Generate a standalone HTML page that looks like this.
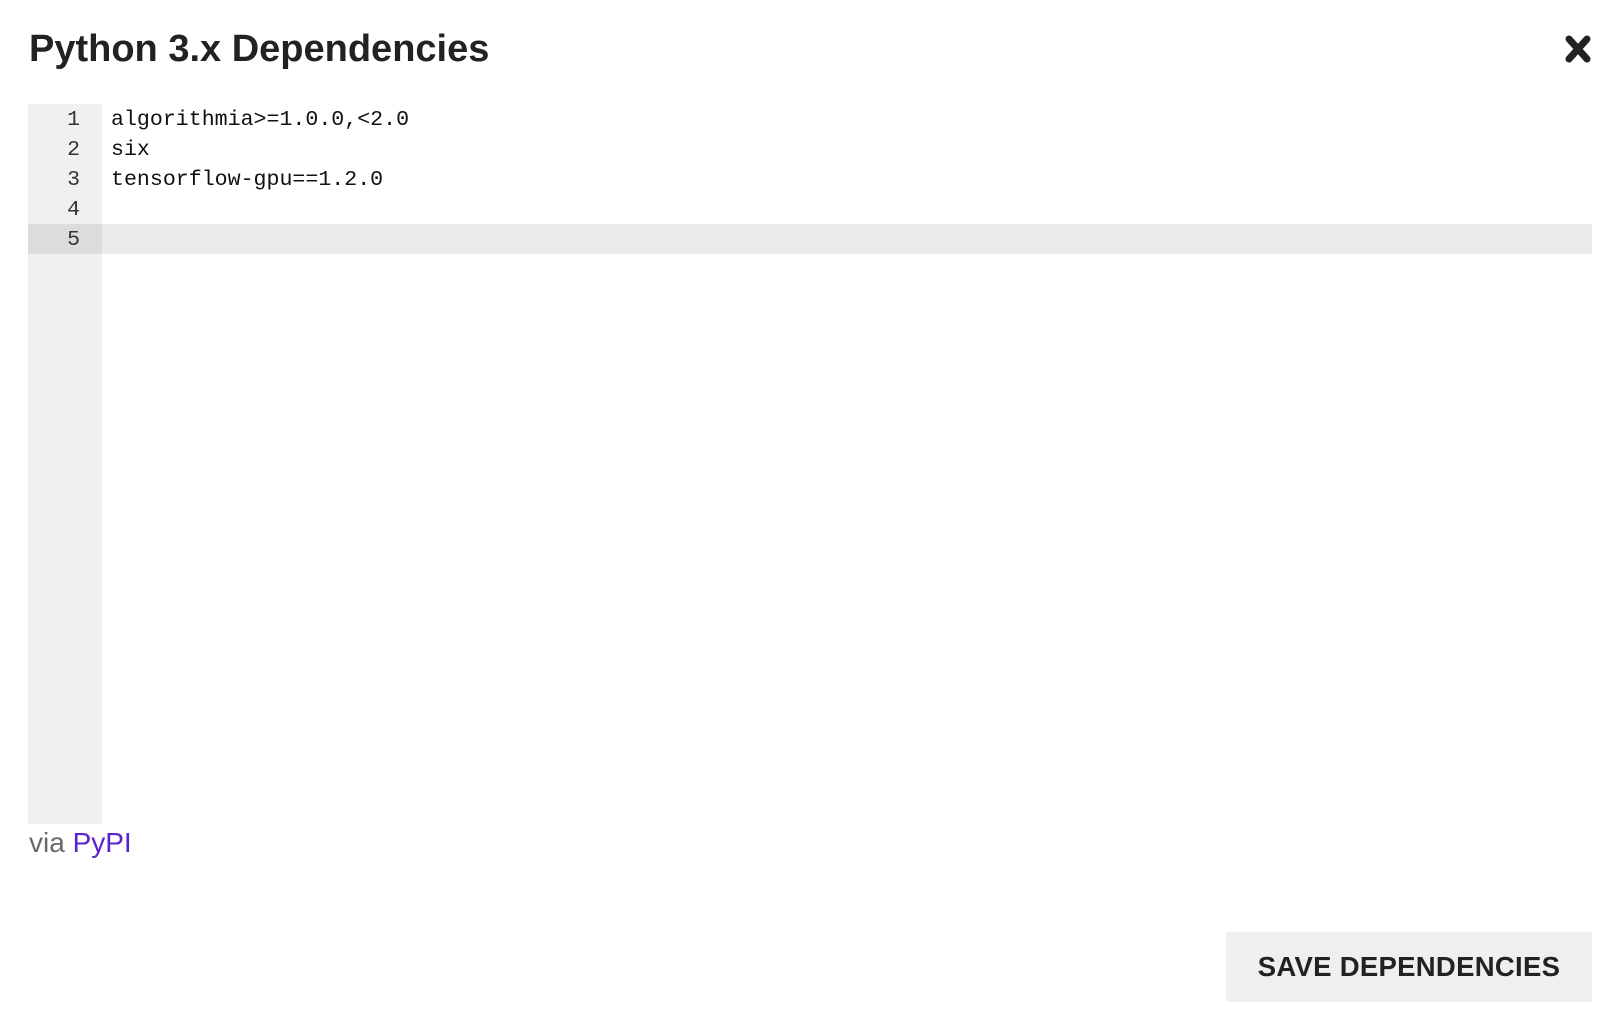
<!DOCTYPE html>
<html><head><meta charset="utf-8"><style>
body{margin:0;width:1620px;height:1030px;background:#fff;position:relative;overflow:hidden;font-family:"Liberation Sans",sans-serif;}
.title{position:absolute;left:29px;top:28px;font-size:38px;font-weight:bold;color:#222;white-space:nowrap;}
.close{position:absolute;left:1564px;top:34px;width:28px;height:30px;}
.editor{position:absolute;left:28px;top:104px;width:1564px;height:720px;}
.gutter{position:absolute;left:0;top:0;width:74px;height:720px;background:#f0f0f0;}
.hl{position:absolute;left:0;top:120px;width:1564px;height:30px;background:#ebebeb;}
.hlg{position:absolute;left:0;top:120px;width:74px;height:30px;background:#dcdcdc;}
.ln{position:absolute;left:0;width:52px;text-align:right;font-family:"Liberation Mono",monospace;font-size:21.5px;color:#333;line-height:30px;}
.code{position:absolute;left:83px;font-family:"Liberation Mono",monospace;font-size:21.6px;color:#111;line-height:30px;white-space:pre;}
.via{position:absolute;left:29px;top:827px;font-size:28px;color:#6a6a6a;}
.via a{color:#5a22d2;text-decoration:none;}
.btn{position:absolute;left:1226px;top:932px;width:366px;height:70px;background:#efefef;border-radius:3px;font-size:27.5px;font-weight:bold;color:#222;text-align:center;line-height:70px;letter-spacing:0.3px;}
</style></head><body>
<div class="title">Python 3.x Dependencies</div>
<svg class="close" viewBox="0 0 28 30"><path d="M5 5 L23 25 M23 5 L5 25" stroke="#222" stroke-width="7" stroke-linecap="round"/></svg>
<div class="editor">
<div class="gutter"></div>
<div class="hl"></div>
<div class="hlg"></div>
<div class="ln" style="top:1px">1</div>
<div class="ln" style="top:31px">2</div>
<div class="ln" style="top:61px">3</div>
<div class="ln" style="top:91px">4</div>
<div class="ln" style="top:121px">5</div>
<div class="code" style="top:1px">algorithmia>=1.0.0,&lt;2.0</div>
<div class="code" style="top:31px">six</div>
<div class="code" style="top:61px">tensorflow-gpu==1.2.0</div>
</div>
<div class="via">via <a>PyPI</a></div>
<div class="btn">SAVE DEPENDENCIES</div>
</body></html>
